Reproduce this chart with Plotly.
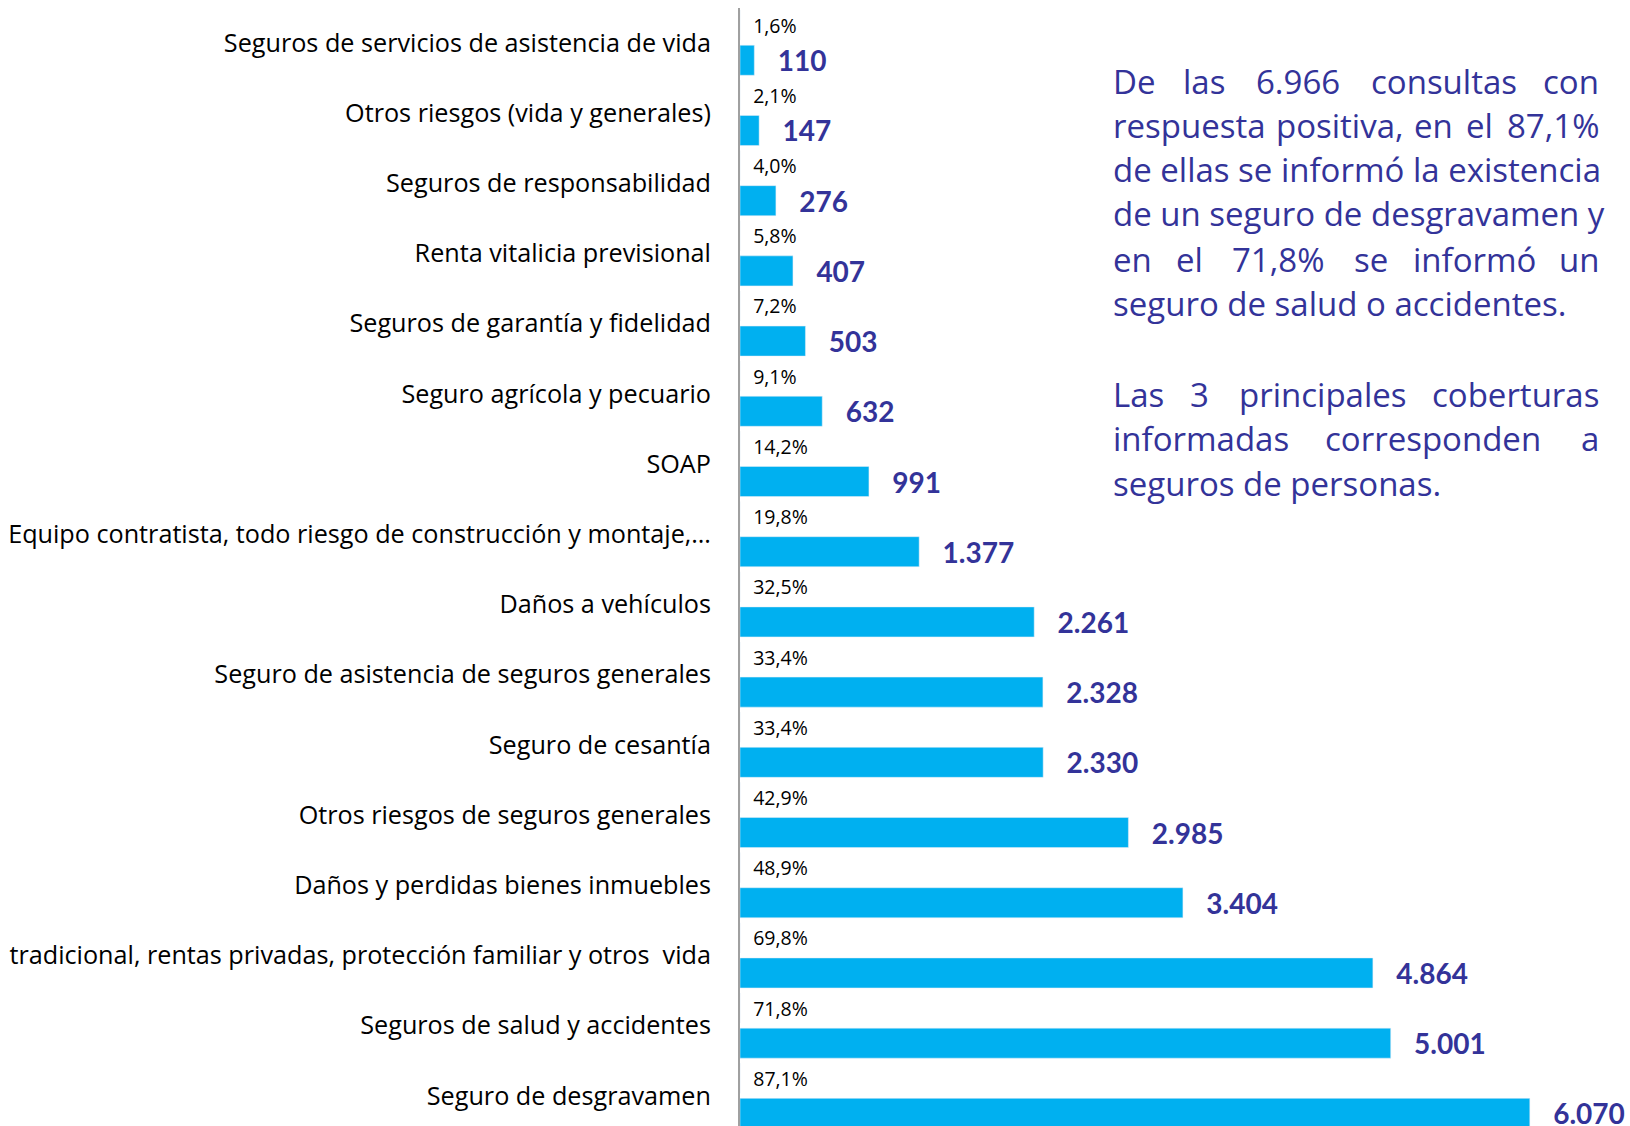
import plotly.graph_objects as go

# categorias de arriba hacia abajo
categorias = [
    "Seguros de servicios de asistencia de vida",
    "Otros riesgos (vida y generales)",
    "Seguros de responsabilidad",
    "Renta vitalicia previsional",
    "Seguros de garantía y fidelidad",
    "Seguro agrícola y pecuario",
    "SOAP",
    "Equipo contratista, todo riesgo de construcción y montaje,…",
    "Daños a vehículos",
    "Seguro de asistencia de seguros generales",
    "Seguro de cesantía",
    "Otros riesgos de seguros generales",
    "Daños y perdidas bienes inmuebles",
    "tradicional, rentas privadas, protección familiar y otros  vida",
    "Seguros de salud y accidentes",
    "Seguro de desgravamen",
]
porcentajes = [1.6, 2.1, 4.0, 5.8, 7.2, 9.1, 14.2, 19.8, 32.5, 33.4, 33.4, 42.9, 48.9, 69.8, 71.8, 87.1]
consultas = [110, 147, 276, 407, 503, 632, 991, 1377, 2261, 2328, 2330, 2985, 3404, 4864, 5001, 6070]

# texto justificado: (palabras, centros x de las palabras intermedias, linea base y)
lineas_justificadas = [
    (["De", "las", "6.966", "consultas", "con"], [1204, 1298, 1444], 93),
    (["respuesta", "positiva,", "en", "el", "87,1%"], [1340, 1433, 1479], 137),
    (["en", "el", "71,8%", "se", "informó", "un"], [1189, 1278, 1371, 1474], 271),
    (["Las", "3", "principales", "coberturas"], [1199, 1323], 406),
    (["informadas", "corresponden", "a"], [1433], 450),
]
lineas_simples = [
    ("de ellas se informó la existencia", 182),
    ("de un seguro de desgravamen y", 226),
    ("seguro de salud o accidentes.", 316),
    ("seguros de personas.", 495),
]

W, H = 1630, 1126
AZUL = "#00B0F0"
TEXTO_AZUL = "#333399"
NB = "\u00a0"


def px(x):
    return x / W


def py(y):
    return 1 - y / H


fig = go.Figure()

fig.add_trace(go.Bar(
    y=categorias, x=[p / 100 for p in porcentajes], orientation="h",
    marker_color="rgba(0,0,0,0)",
    texttemplate=NB * 2 + "%{x:.1%}", textposition="outside",
    textfont=dict(family="Open Sans", size=19.5, color="black"),
    constraintext="none", cliponaxis=False, hoverinfo="skip",
))
fig.add_trace(go.Bar(
    y=categorias, x=consultas, orientation="h",
    marker_color=AZUL,
    texttemplate=NB * 3 + "%{x:,}", textposition="outside",
    textfont=dict(family="Lato", size=28, color=TEXTO_AZUL, weight="bold"),
    constraintext="none", cliponaxis=False,
))

# parrafo de texto a la derecha
FS = 33
anots = []
for palabras, centros, base in lineas_justificadas:
    yc = py(base - 12)
    anots.append(dict(x=px(1111), y=yc, text=palabras[0], xanchor="left"))
    for w, c in zip(palabras[1:-1], centros):
        anots.append(dict(x=px(c), y=yc, text=w, xanchor="center"))
    anots.append(dict(x=px(1601), y=yc, text=palabras[-1], xanchor="right"))
for texto, base in lineas_simples:
    anots.append(dict(x=px(1111), y=py(base - 12), text=texto, xanchor="left"))
for a in anots:
    a.update(xref="paper", yref="paper", yanchor="middle", showarrow=False,
             font=dict(family="Open Sans", size=FS, color=TEXTO_AZUL))

fig.update_layout(
    width=W, height=H,
    margin=dict(l=0, r=0, t=0, b=0),
    paper_bgcolor="white", plot_bgcolor="white",
    barmode="group", bargap=0, bargroupgap=0.145,
    showlegend=False,
    separators=",.",
    annotations=anots,
    xaxis=dict(domain=[740 / W, 1], range=[0, 6840], visible=False),
    yaxis=dict(
        domain=[0, 1 - 7.6 / H], range=[15.43, -0.5],
        showline=True, linecolor="#a0a0a0", linewidth=2,
        showgrid=False, zeroline=False, ticks="",
        ticklabelstandoff=22,
        tickfont=dict(family="Open Sans", size=25.2, color="black"),
    ),
)

fig.write_html("out.html", config={"displayModeBar": False},
               post_script="document.body.style.margin='0px';")
